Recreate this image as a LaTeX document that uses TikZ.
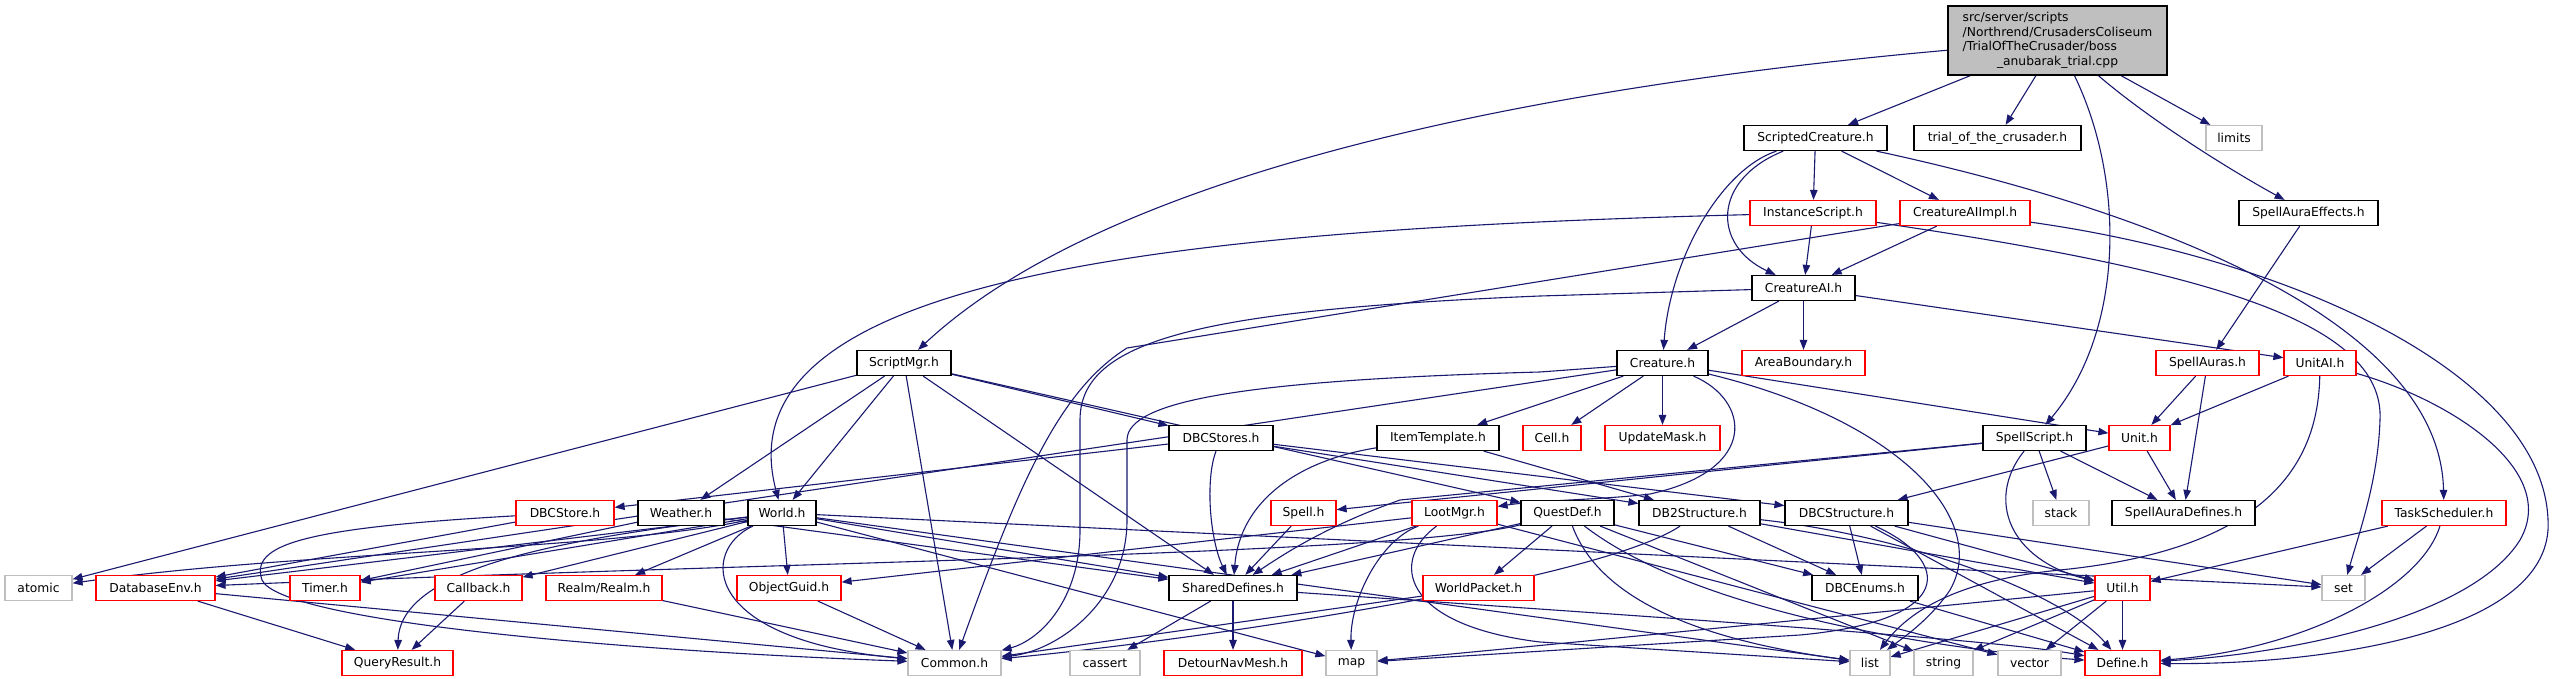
\documentclass[tikz,border=0pt]{standalone}
\usepackage{fontspec}
\setmainfont{DejaVu Sans}
\usetikzlibrary{arrows.meta,backgrounds}
\definecolor{edgec}{HTML}{191970}
\definecolor{redc}{HTML}{FF0000}
\definecolor{grayc}{HTML}{BFBFBF}
\begin{document}
\begin{tikzpicture}[x=1pt,y=-1pt,font=\fontsize{12.3}{14.6}\selectfont,
  box/.style={rectangle,minimum height=25pt,inner sep=0pt,line width=1.2pt,fill=white},
  nb/.style={box,draw=black},
  nr/.style={box,draw=redc},
  ng/.style={box,draw=grayc},
  bw/.style={minimum width=#1pt},
  e/.style={draw=edgec,line width=1.1pt,-{Triangle[length=10pt,width=7.5pt]}}]
\useasboundingbox (0,0) rectangle (2554,679);
% row 0
\node[nb,fill=grayc,minimum width=219pt,minimum height=69pt] (root) at (2057.5,40.5)
 {\begin{tabular}{@{}l@{}}src/server/scripts\\/Northrend/CrusadersColiseum\\/TrialOfTheCrusader/boss\\\multicolumn{1}{@{}c@{}}{\_anubarak\_trial.cpp}\end{tabular}};
% row 1
\node[nb,bw=143] (scriptedcreature) at (1815.5,138) {ScriptedCreature.h};
\node[nb,bw=167] (trial) at (1997.5,138) {trial\_of\_the\_crusader.h};
\node[ng,bw=56] (limits) at (2234,138) {limits};
% row 2
\node[nr,bw=126] (instancescript) at (1813,213) {InstanceScript.h};
\node[nr,bw=130] (creatureaiimpl) at (1965,213) {CreatureAIImpl.h};
\node[nb,bw=139] (spellauraeffects) at (2308.5,213) {SpellAuraEffects.h};
% row 3
\node[nb,bw=103] (creatureai) at (1803.5,288) {CreatureAI.h};
% row 4
\node[nb,bw=94] (scriptmgr) at (904,363) {ScriptMgr.h};
\node[nb,bw=91] (creature) at (1662.5,363) {Creature.h};
\node[nr,bw=123] (areaboundary) at (1803.5,363) {AreaBoundary.h};
\node[nr,bw=103] (spellauras) at (2207.5,363) {SpellAuras.h};
\node[nr,bw=72] (unitai) at (2320,363) {UnitAI.h};
% row 5
\node[nb,bw=104] (dbcstores) at (1221,438) {DBCStores.h};
\node[nb,bw=122] (itemtemplate) at (1438,438) {ItemTemplate.h};
\node[nr,bw=58] (cell) at (1552,438) {Cell.h};
\node[nr,bw=115] (updatemask) at (1662.5,438) {UpdateMask.h};
\node[nb,bw=103] (spellscript) at (2034.5,438) {SpellScript.h};
\node[nr,bw=61] (unit) at (2139.5,438) {Unit.h};
% row 6
\node[nr,bw=98] (dbcstore) at (565,513) {DBCStore.h};
\node[nb,bw=86] (weather) at (681,513) {Weather.h};
\node[nb,bw=68] (world) at (782,513) {World.h};
\node[nr,bw=65] (spell) at (1303.5,513) {Spell.h};
\node[nr,bw=85] (lootmgr) at (1454.5,513) {LootMgr.h};
\node[nb,bw=93] (questdef) at (1567.5,513) {QuestDef.h};
\node[nb,bw=121] (db2structure) at (1699.5,513) {DB2Structure.h};
\node[nb,bw=123] (dbcstructure) at (1846.5,513) {DBCStructure.h};
\node[ng,bw=56] (stack) at (2061,513) {stack};
\node[nb,bw=143] (spellauradefines) at (2183.5,513) {SpellAuraDefines.h};
\node[nr,bw=124] (taskscheduler) at (2444,513) {TaskScheduler.h};
% row 7
\node[ng,bw=67] (atomic) at (38.5,588) {atomic};
\node[nr,bw=119] (databaseenv) at (155.5,588) {DatabaseEnv.h};
\node[nr,bw=70] (timer) at (325,588) {Timer.h};
\node[nr,bw=87] (callback) at (478.5,588) {Callback.h};
\node[nr,bw=116] (realm) at (604,588) {Realm/Realm.h};
\node[nr,bw=104] (objectguid) at (789,588) {ObjectGuid.h};
\node[nb,bw=128] (shareddefines) at (1233,588) {SharedDefines.h};
\node[nr,bw=111] (worldpacket) at (1478.5,588) {WorldPacket.h};
\node[nb,bw=106] (dbcenums) at (1865,588) {DBCEnums.h};
\node[nr,bw=55] (util) at (2122.5,588) {Util.h};
\node[ng,bw=43] (set) at (2343.5,588) {set};
% row 8
\node[nr,bw=111] (queryresult) at (397.5,663) {QueryResult.h};
\node[ng,bw=93] (common) at (954.5,663) {Common.h};
\node[ng,bw=70] (cassert) at (1105,663) {cassert};
\node[nr,bw=138] (detournavmesh) at (1233,663) {DetourNavMesh.h};
\node[ng,bw=51] (map) at (1351.5,663) {map};
\node[ng,bw=40] (list) at (1870,663) {list};
\node[ng,bw=59] (string) at (1943.5,663) {string};
\node[ng,bw=63] (vector) at (2029.5,663) {vector};
\node[nr,bw=75] (define) at (2122.5,663) {Define.h};
\begin{pgfonlayer}{background}
\fill[white] (0,0) rectangle (2554,679);
% ---- edges: root
\draw[e] (root) .. controls (1500,90) and (1100,180) .. (scriptmgr);
\draw[e] (root) -- (scriptedcreature);
\draw[e] (root) -- (trial);
\draw[e] (root) -- (limits);
\draw[e] (root) .. controls (2150,120) and (2230,170) .. (spellauraeffects);
\draw[e] (root) .. controls (2125,180) and (2125,330) .. (spellscript);
% ScriptedCreature
\draw[e] (scriptedcreature) -- (instancescript);
\draw[e] (scriptedcreature) -- (creatureaiimpl);
\draw[e] (scriptedcreature) .. controls (1712,180) and (1712,245) .. (creatureai);
\draw[e] (scriptedcreature) .. controls (1720,170) and (1670,260) .. (creature);
\draw[e] (scriptedcreature) .. controls (2150,210) and (2440,320) .. (taskscheduler);
% InstanceScript
\draw[e] (instancescript) -- (creatureai);
\draw[e] (instancescript) .. controls (1150,230) and (720,280) .. (world);
\draw[e] (instancescript) .. controls (2200,270) and (2385,320) .. (2380,420) .. controls (2378,480) and (2360,530) .. (set);
% CreatureAIImpl
\draw[e] (creatureaiimpl) -- (creatureai);
\draw[e] (creatureaiimpl) -- (1127,348) .. controls (1060,390) and (1020,480) .. (common);
\draw[e] (creatureaiimpl) .. controls (2300,260) and (2554,380) .. (2548,530) .. controls (2540,640) and (2300,665) .. (define);
% CreatureAI
\draw[e] (creatureai) -- (creature);
\draw[e] (creatureai) -- (areaboundary);
\draw[e] (creatureai) -- (unitai);
\draw[e] (creatureai) -- (1540,296) .. controls (1200,310) and (1080,340) .. (1080,420) -- (1080,530) .. controls (1080,600) and (1040,640) .. (common);
% SpellAuraEffects / SpellAuras / UnitAI / Unit
\draw[e] (spellauraeffects) -- (spellauras);
\draw[e] (spellauras) -- (unit);
\draw[e] (spellauras) -- (spellauradefines);
\draw[e] (unitai) -- (unit);
\draw[e] (unitai) .. controls (2318,470) and (2260,550) .. (2060,570) .. controls (1960,580) and (1910,610) .. (list);
\draw[e] (unitai) .. controls (2450,400) and (2560,470) .. (2520,540) .. controls (2470,620) and (2280,655) .. (define);
\draw[e] (unit) -- (dbcstructure);
\draw[e] (unit) -- (spellauradefines);
% SpellScript
\draw[e] (spellscript) -- (spellauradefines);
\draw[e] (spellscript) -- (stack);
\draw[e] (spellscript) .. controls (1985,500) and (2010,560) .. (util);
\draw[e] (spellscript) -- (spell);
\draw[e] (spellscript) -- (1400,500) .. controls (1330,525) and (1290,550) .. (shareddefines);
% Creature
\draw[e] (creature) -- (itemtemplate);
\draw[e] (creature) -- (cell);
\draw[e] (creature) -- (updatemask);
\draw[e] (creature) -- (unit);
\draw[e] (creature) -- (databaseenv);
\draw[e] (creature) .. controls (1750,400) and (1760,470) .. (1650,494) .. controls (1600,500) and (1540,500) .. (lootmgr);
\draw[e] (creature) .. controls (1900,420) and (1990,520) .. (1950,590) .. controls (1930,620) and (1900,640) .. (list);
\draw[e] (creature) -- (1540,372) .. controls (1250,380) and (1127,400) .. (1127,440) -- (1127,520) .. controls (1127,600) and (1060,650) .. (common);
% ScriptMgr
\draw[e] (scriptmgr) -- (atomic);
\draw[e] (scriptmgr) -- (weather);
\draw[e] (scriptmgr) -- (world);
\draw[e] (scriptmgr) -- (common);
\draw[e] (scriptmgr) -- (shareddefines);
\draw[e] (scriptmgr) -- (questdef);
\draw[e] (scriptmgr) -- (dbcstores);
% DBCStores
\draw[e] (dbcstores) -- (dbcstore);
\draw[e] (dbcstores) .. controls (1205,480) and (1210,540) .. (shareddefines);
\draw[e] (dbcstores) -- (db2structure);
\draw[e] (dbcstores) -- (dbcstructure);
% ItemTemplate
\draw[e] (itemtemplate) .. controls (1300,460) and (1240,500) .. (shareddefines);
\draw[e] (itemtemplate) -- (db2structure);
% Spell
\draw[e] (spell) -- (shareddefines);
% LootMgr
\draw[e] (lootmgr) -- (shareddefines);
\draw[e] (lootmgr) -- (objectguid);
\draw[e] (lootmgr) .. controls (1380,540) and (1350,600) .. (map);
\draw[e] (lootmgr) .. controls (1390,560) and (1400,625) .. (1540,642) -- (list);
\draw[e] (lootmgr) -- (vector);
% QuestDef
\draw[e] (questdef) -- (shareddefines);
\draw[e] (questdef) -- (worldpacket);
\draw[e] (questdef) .. controls (1400,555) and (800,561) .. (databaseenv);
\draw[e] (questdef) -- (dbcenums);
\draw[e] (questdef) .. controls (1700,615) and (1950,650) .. (define);
\draw[e] (questdef) -- (string);
\draw[e] (questdef) .. controls (1600,600) and (1700,640) .. (list);
% DB2Structure
\draw[e] (db2structure) -- (dbcenums);
\draw[e] (db2structure) .. controls (1900,535) and (2060,590) .. (define);
\draw[e] (db2structure) -- (util);
\draw[e] (db2structure) .. controls (1600,580) and (1200,640) .. (common);
% DBCStructure
\draw[e] (dbcstructure) -- (dbcenums);
\draw[e] (dbcstructure) -- (util);
\draw[e] (dbcstructure) -- (define);
\draw[e] (dbcstructure) .. controls (1950,560) and (1960,620) .. (1800,635) -- (map);
\draw[e] (dbcstructure) -- (set);
% Util
\draw[e] (util) -- (define);
\draw[e] (util) -- (list);
\draw[e] (util) -- (string);
\draw[e] (util) -- (vector);
\draw[e] (util) .. controls (1900,610) and (1500,650) .. (map);
% TaskScheduler
\draw[e] (taskscheduler) -- (util);
\draw[e] (taskscheduler) -- (set);
\draw[e] (taskscheduler) .. controls (2420,590) and (2300,650) .. (define);
% SharedDefines
\draw[e] (shareddefines) -- (cassert);
\draw[e] (shareddefines) -- (detournavmesh);
\draw[e] (shareddefines) .. controls (1700,620) and (2000,640) .. (define);
% World
\draw[e] (world) .. controls (700,550) and (700,640) .. (common);
\draw[e] (world) -- (objectguid);
\draw[e] (world) -- (realm);
\draw[e] (world) -- (callback);
\draw[e] (world) -- (timer);
\draw[e] (world) -- (databaseenv);
\draw[e] (world) .. controls (600,551) and (300,551) .. (atomic);
\draw[e] (world) .. controls (550,540) and (400,570) .. (queryresult);
\draw[e] (world) -- (shareddefines);
\draw[e] (world) -- (map);
\draw[e] (world) -- (set);
\draw[e] (world) -- (list);
% Weather, DBCStore
\draw[e] (weather) -- (timer);
\draw[e] (weather) -- (shareddefines);
\draw[e] (dbcstore) -- (databaseenv);
\draw[e] (dbcstore) .. controls (300,528) and (250,545) .. (262,580) .. controls (280,620) and (600,650) .. (common);
% lower rows
\draw[e] (databaseenv) -- (queryresult);
\draw[e] (databaseenv) -- (common);
\draw[e] (callback) -- (queryresult);
\draw[e] (realm) -- (common);
\draw[e] (objectguid) -- (common);
\draw[e] (worldpacket) -- (common);
\draw[e] (dbcenums) -- (define);
\end{pgfonlayer}
\end{tikzpicture}
\end{document}
